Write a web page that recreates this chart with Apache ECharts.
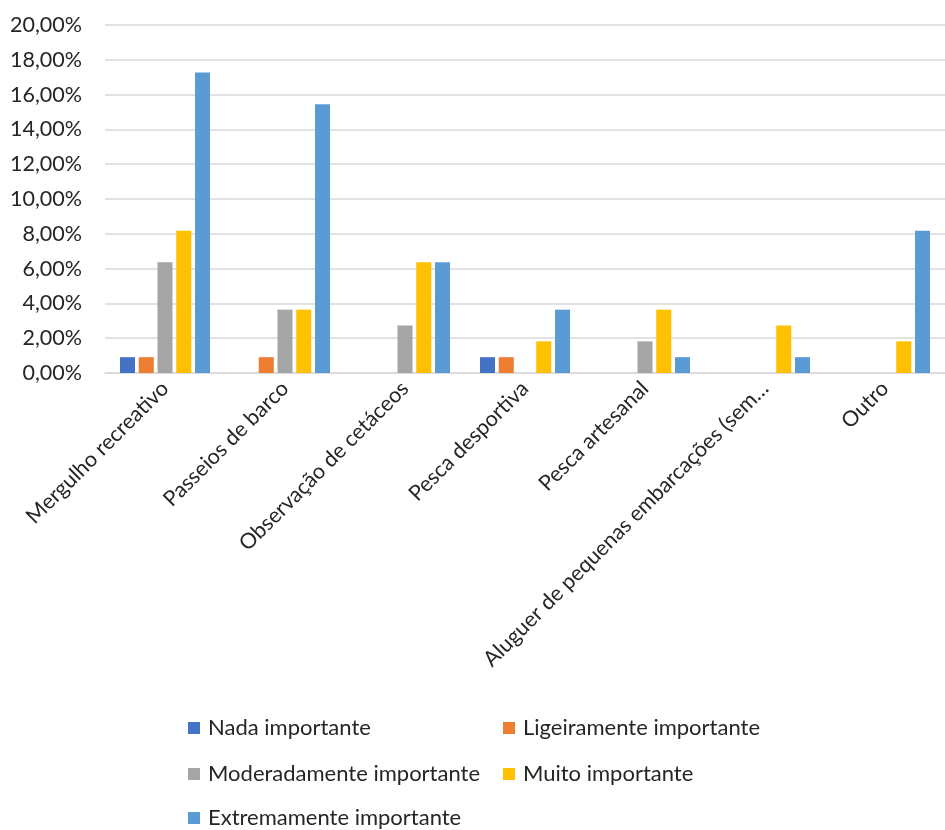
<!DOCTYPE html>
<html>
<head>
<meta charset="utf-8">
<script src="https://cdn.jsdelivr.net/npm/echarts@6/dist/echarts.min.js"></script>
<style>
  html, body { margin: 0; padding: 0; background: #fff; }
  #main { width: 945px; height: 830px; }
</style>
</head>
<body>
<div id="main"></div>
<script>
var categories = ['Mergulho recreativo', 'Passeios de barco', 'Observação de cetáceos', 'Pesca desportiva', 'Pesca artesanal', 'Aluguer de pequenas embarcações (sem…', 'Outro'];
var seriesNames = ['Nada importante', 'Ligeiramente importante', 'Moderadamente importante', 'Muito importante', 'Extremamente importante'];
// percentagens
var nada = [0.91, 0, 0, 0.91, 0, 0, 0];
var ligeiramente = [0.91, 0.91, 0, 0.91, 0, 0, 0];
var moderadamente = [6.36, 3.64, 2.73, 0, 1.82, 0, 0];
var muito = [8.18, 3.64, 6.36, 1.82, 3.64, 2.73, 1.82];
var extremamente = [17.27, 15.45, 6.36, 3.64, 0.91, 0.91, 8.18];
var yTicks = { min: 0, max: 20, interval: 2 };

var colors = ['#4472C4', '#ED7D31', '#A5A5A5', '#FFC000', '#5B9BD5'];
var values = [nada, ligeiramente, moderadamente, muito, extremamente];
var FONT = 'Lato';

var chart = echarts.init(document.getElementById('main'));

// uma legenda por item para reproduzir a grelha de duas colunas
var legendPos = [[183, 727], [498, 727], [183, 773], [498, 773], [183, 817]];
var legends = seriesNames.map(function (name, i) {
    return {
        data: [name],
        left: legendPos[i][0],
        top: legendPos[i][1] - 15,
        itemWidth: 12,
        itemHeight: 12,
        icon: 'rect',
        itemGap: 0,
        selectedMode: false,
        textStyle: { fontFamily: FONT, fontSize: 22, color: '#262626', padding: [0, 0, 0, 3] }
    };
});

var series = seriesNames.map(function (name, i) {
    return {
        name: name,
        type: 'bar',
        data: values[i],
        barWidth: 15,
        barGap: '25%',
        itemStyle: { color: colors[i] }
    };
});

chart.setOption({
    color: colors,
    animation: false,
    legend: legends,
    grid: { left: 105, right: 0, top: 25, bottom: 457, containLabel: false },
    xAxis: {
        type: 'category',
        data: categories,
        axisTick: { show: false },
        axisLine: { lineStyle: { color: '#d9d9d9', width: 1.5 } },
        axisLabel: {
            interval: 0,
            rotate: 45,
            margin: 12,
            fontFamily: FONT,
            fontSize: 21.5,
            color: '#262626'
        }
    },
    yAxis: {
        type: 'value',
        min: yTicks.min,
        max: yTicks.max,
        interval: yTicks.interval,
        axisLine: { show: false },
        axisTick: { show: false },
        splitLine: { lineStyle: { color: '#d9d9d9', width: 1.5 } },
        axisLabel: {
            margin: 23,
            fontFamily: FONT,
            fontSize: 21.5,
            color: '#262626',
            formatter: function (v) {
                return v.toFixed(2).replace('.', ',') + '%';
            }
        }
    },
    series: series
});
</script>
</body>
</html>
